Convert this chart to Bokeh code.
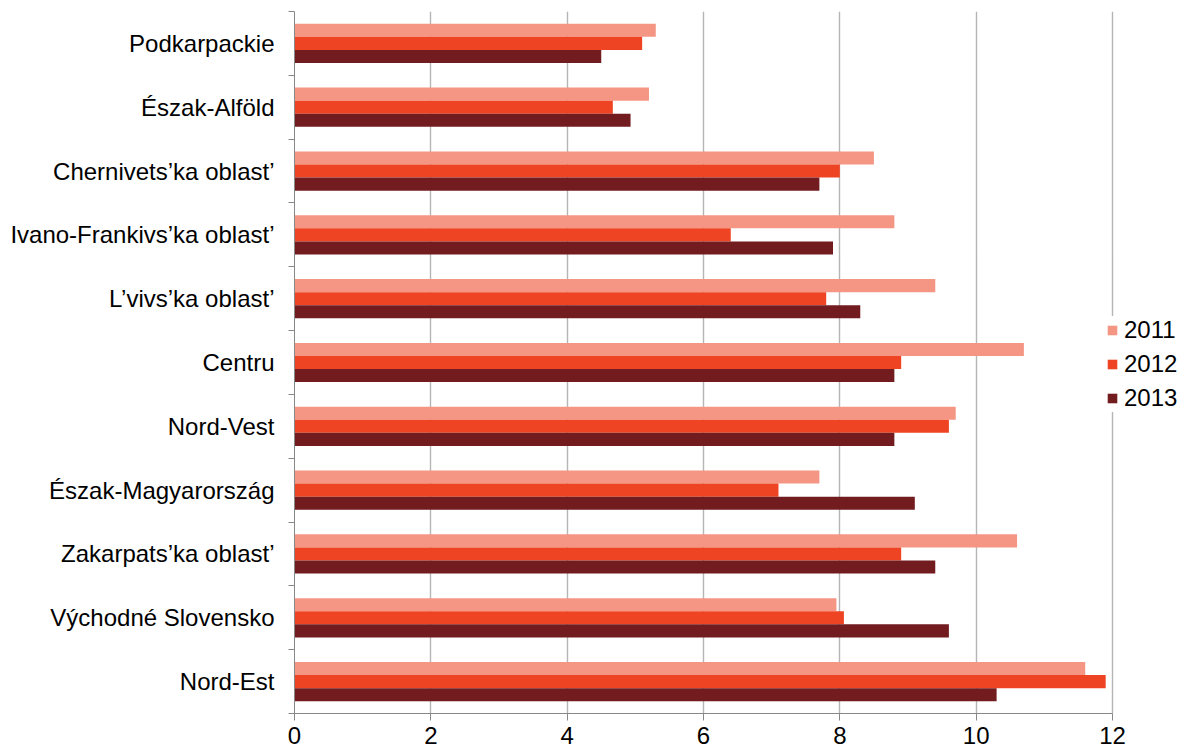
from bokeh.plotting import figure
from bokeh.models import (ColumnDataSource, Range1d, LinearAxis, FixedTicker, Legend, LegendItem)
from bokeh.transform import dodge
from bokeh.embed import file_html
from bokeh.resources import INLINE

regions = ["Podkarpackie", "Észak-Alföld", "Chernivets’ka oblast’", "Ivano-Frankivs’ka oblast’",
           "L’vivs’ka oblast’", "Centru", "Nord-Vest", "Észak-Magyarország",
           "Zakarpats’ka oblast’", "Východné Slovensko", "Nord-Est"]
v2011 = [5.3, 5.2, 8.5, 8.8, 9.4, 10.7, 9.7, 7.7, 10.6, 7.95, 11.6]
v2012 = [5.1, 4.67, 8.0, 6.4, 7.8, 8.9, 9.6, 7.1, 8.9, 8.06, 11.9]
v2013 = [4.5, 4.93, 7.7, 7.9, 8.3, 8.8, 8.8, 9.1, 9.4, 9.6, 10.3]
years = ["2011", "2012", "2013"]
colors = ["#F59684", "#EF4423", "#721C20"]
x_ticks = [0, 2, 4, 6, 8, 10, 12]

FONT = "Liberation Sans"
FS = "24px"
n = len(regions)
# category slot centres (first region at the top)
ypos = [n - i - 0.5 for i in range(n)]

src = ColumnDataSource(dict(region=regions, ypos=ypos, y2011=v2011, y2012=v2012, y2013=v2013))

p = figure(width=1185, height=754, output_backend="svg", toolbar_location=None,
           y_range=Range1d(0, n),
           x_range=Range1d(0, 13.071),
           x_axis_location=None, y_axis_location=None,
           min_border_left=294, min_border_right=0, min_border_top=11, min_border_bottom=41)
p.outline_line_color = None
p.background_fill_color = "white"

bw = 0.205
offsets = [bw, 0.0, -bw]
renderers = []
for yr, col, off in zip(years, colors, offsets):
    r = p.hbar(y=dodge("ypos", off), right="y" + yr, left=0, height=bw,
               source=src, fill_color=col, line_color=None)
    renderers.append(r)

# y tick axis (ticks at category boundaries, no labels)
ytick_axis = LinearAxis(ticker=FixedTicker(ticks=list(range(n + 1))),
                        major_label_overrides={i: "" for i in range(n + 1)},
                        major_label_standoff=0, major_tick_out=6, major_tick_in=0,
                        minor_tick_line_color=None, axis_line_color="#888888",
                        major_tick_line_color="#888888", major_label_text_font_size="1px")
p.add_layout(ytick_axis, "left")

# category label axis
cat_axis = LinearAxis(ticker=FixedTicker(ticks=ypos),
                      major_label_overrides={y: r for y, r in zip(ypos, regions)},
                      axis_line_color=None, major_tick_line_color=None, minor_tick_line_color=None,
                      major_label_standoff=8, major_label_text_font=FONT,
                      major_label_text_font_size=FS, major_label_text_color="black")
p.add_layout(cat_axis, "left")

xaxis = LinearAxis(ticker=FixedTicker(ticks=x_ticks), bounds=(0, 12),
                   axis_line_color="#888888", major_tick_line_color="#888888",
                   major_tick_out=7, major_tick_in=0, minor_tick_line_color=None,
                   major_label_standoff=6, major_label_text_font=FONT,
                   major_label_text_font_size=FS, major_label_text_color="black")
p.add_layout(xaxis, "below")

p.xgrid.ticker = FixedTicker(ticks=x_ticks)
p.xgrid.bounds = (0, 12)
p.xgrid.grid_line_color = "#b5b5b5"
p.xgrid.grid_line_width = 1.4
p.ygrid.grid_line_color = None

legend = Legend(items=[LegendItem(label=yr, renderers=[r]) for yr, r in zip(years, renderers)],
                location=(812, 301), padding=8, spacing=6, margin=0,
                glyph_width=12, glyph_height=12, label_height=20, label_standoff=6,
                label_text_font=FONT, label_text_font_size=FS, label_text_color="black",
                border_line_color=None, background_fill_color="white", background_fill_alpha=1.0)
p.add_layout(legend, "center")

open("out.html", "w").write(file_html(p, INLINE))
